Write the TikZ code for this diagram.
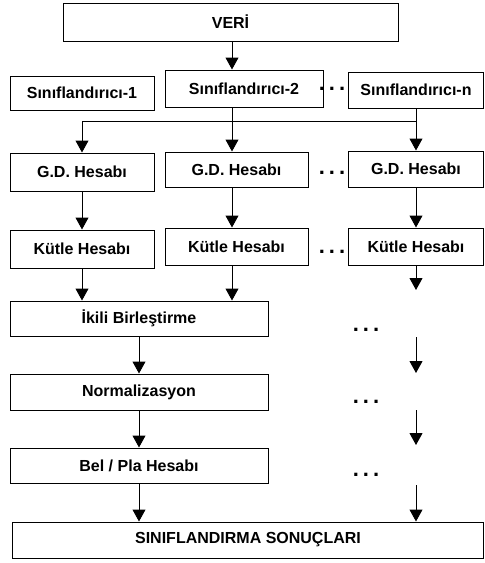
\documentclass[tikz,border=0pt]{standalone}
\usepackage{fontspec}
\setmainfont{Liberation Sans}
\usetikzlibrary{arrows.meta, positioning, calc}

\begin{document}
\begin{tikzpicture}[
    x=1pt, y=-1pt,
    box/.style={draw, rectangle, line width=1pt, inner sep=0pt, align=center, font=\bfseries\fontsize{16}{18}\selectfont},
    dots/.style={inner sep=0pt, font=\bfseries\fontsize{22}{24}\selectfont},
    arrow/.style={-{Triangle[width=13pt, length=12pt]}, line width=1pt},
    link/.style={line width=1pt}
]
    \useasboundingbox (0,0) rectangle (485,563);

    % Nodes
    \node[box, minimum width=335pt, minimum height=38pt] (veri) at (230.5,22) {VERİ};

    \node[box, minimum width=144pt, minimum height=34pt] (sin1) at (82,93) {Sınıflandırıcı-1};
    \node[box, minimum width=158pt, minimum height=37pt] (sin2) at (244,88.5) {Sınıflandırıcı-2};
    \node[box, minimum width=135pt, minimum height=36pt] (sinn) at (416,90) {Sınıflandırıcı-n};

    \node[box, minimum width=144pt, minimum height=38pt] (gd1) at (82,172) {G.D. Hesabı};
    \node[box, minimum width=143pt, minimum height=35pt] (gd2) at (236.5,169.5) {G.D. Hesabı};
    \node[box, minimum width=135pt, minimum height=36pt] (gdn) at (416,169) {G.D. Hesabı};

    \node[box, minimum width=144pt, minimum height=38pt] (kut1) at (82,249) {Kütle Hesabı};
    \node[box, minimum width=143pt, minimum height=37pt] (kut2) at (236.5,246.5) {Kütle Hesabı};
    \node[box, minimum width=135pt, minimum height=37pt] (kutn) at (416,246.5) {Kütle Hesabı};

    \node[box, minimum width=258pt, minimum height=35pt] (ikili) at (139,318.5) {İkili Birleştirme};
    \node[box, minimum width=258pt, minimum height=36pt] (norm) at (139,392) {Normalizasyon};
    \node[box, minimum width=258pt, minimum height=35pt] (belpla) at (139,465.5) {Bel / Pla Hesabı};
    \node[box, minimum width=471pt, minimum height=36pt] (sonuc) at (248,540) {SINIFLANDIRMA SONUÇLARI};

    % Dots
    \node[dots] (d1) at (332,89) {.\hspace{4pt}.\hspace{4pt}.};
    \node[dots] (d2) at (332,173) {.\hspace{4pt}.\hspace{4pt}.};
    \node[dots] (d3) at (332,252) {.\hspace{4pt}.\hspace{4pt}.};
    \node[dots] (d4) at (366,330) {.\hspace{4pt}.\hspace{4pt}.};
    \node[dots] (d5) at (366,402) {.\hspace{4pt}.\hspace{4pt}.};
    \node[dots] (d6) at (366,475) {.\hspace{4pt}.\hspace{4pt}.};

    % Bus
    \coordinate (b1) at (82,121);
    \coordinate (b2) at (232,121);
    \coordinate (bn) at (416,121);
    \coordinate (r1) at (416,290);
    \coordinate (r2a) at (416,337);
    \coordinate (r2b) at (416,373);
    \coordinate (r3a) at (416,410);
    \coordinate (r3b) at (416,445);
    \coordinate (r4a) at (416,485);

    % Arrows
    \draw[arrow] (veri.south -| b2) -- (b2 |- sin2.north);
    \draw[link] (b1) -- (bn);
    \draw[link] (sin2.south -| b2) -- (b2);
    \draw[arrow] (b2) -- (b2 |- gd2.north);
    \draw[arrow] (sinn) -- (gdn);
    \draw[arrow] (b1) -- (gd1);

    \draw[arrow] (gd1) -- (kut1);
    \draw[arrow] (gd2.south -| b2) -- (b2 |- kut2.north);
    \draw[arrow] (gdn) -- (kutn);

    \draw[arrow] (kut1) -- (kut1 |- ikili.north);
    \draw[arrow] (kut2.south -| b2) -- (b2 |- ikili.north);
    \draw[arrow] (kutn) -- (r1);

    \draw[arrow] (ikili) -- (norm);
    \draw[arrow] (norm) -- (belpla);
    \draw[arrow] (belpla) -- (belpla |- sonuc.north);

    \draw[arrow] (r2a) -- (r2b);
    \draw[arrow] (r3a) -- (r3b);
    \draw[arrow] (r4a) -- (r4a |- sonuc.north);
\end{tikzpicture}
\end{document}
